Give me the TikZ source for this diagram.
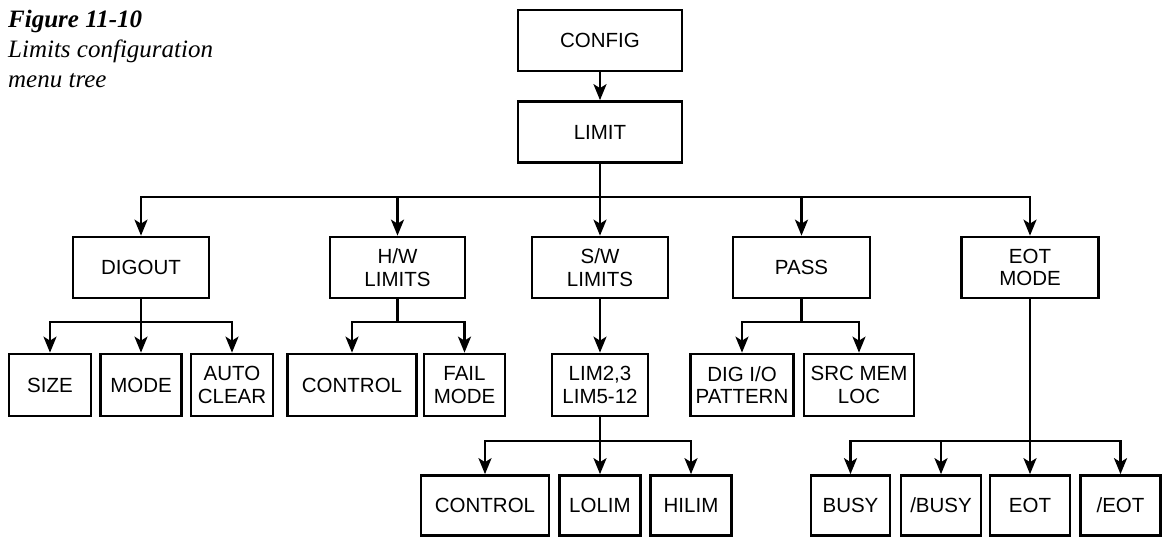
\documentclass[tikz,border=0pt]{standalone}
\usepackage{fontspec}
\setmainfont{Liberation Serif}
\setsansfont{Liberation Sans}
\usetikzlibrary{arrows.meta}
\tikzset{
  menubox/.style={draw, line width=2.7pt, minimum height=61pt, inner sep=0pt, align=center,
    font=\sffamily\fontsize{20.5}{22.5}\selectfont},
  link/.style={line width=2.5pt},
  linkarrow/.style={link, -{Stealth[length=16pt,width=13pt,inset=4pt]}},
  caption/.style={anchor=base west, inner sep=0pt, font=\fontsize{25}{30}\selectfont\itshape}
}
\begin{document}
\begin{tikzpicture}[x=1pt,y=-1pt]
  \useasboundingbox (0,0) rectangle (1162,537);
  \node[caption, font=\fontsize{25}{30}\selectfont\bfseries\itshape] (cap1) at (8,28) {Figure 11-10};
  \node[caption] (cap2) at (8,58) {Limits configuration};
  \node[caption] (cap3) at (8,88) {menu tree};
  \node[menubox, minimum width=164pt] (config) at (600,40.5) {CONFIG};
  \node[menubox, minimum width=164pt] (limit) at (600,132) {LIMIT};
  \foreach \n/\x/\w/\t in {digout/141/136/DIGOUT, hw/397.5/135/{H/W\\LIMITS}, sw/600/136/{S/W\\LIMITS},
      pass/801.5/137/PASS, eotmode/1030/137/{EOT\\MODE}}
    \node[menubox, minimum width=\w pt] (\n) at (\x,267.5) {\t};
  \foreach \n/\x/\w/\t in {size/50/82/SIZE, mode/141/81/MODE, autoclr/232/82/{AUTO\\CLEAR},
      hwctrl/352/129/CONTROL, fail/464.5/81/{FAIL\\MODE}, lim/600/96/{LIM2,3\\LIM5-12},
      dig/742/103/{DIG I/O\\PATTERN}, src/859/110/{SRC MEM\\LOC}}
    \node[menubox, minimum width=\w pt, minimum height=62pt] (\n) at (\x,385) {\t};
  \foreach \n/\x/\w/\t in {swctrl/485/128/CONTROL, lolim/600/81/LOLIM, hilim/691/81/HILIM,
      busy/850.5/79/BUSY, nbusy/941/80/{/BUSY}, eot/1030/80/EOT, neot/1120.5/80/{/EOT}}
    \node[menubox, minimum width=\w pt, minimum height=60pt] (\n) at (\x,505.5) {\t};
  \coordinate (topfork) at (0,197);
  \coordinate (midfork) at (0,322);
  \coordinate (lowfork) at (0,441);
  \draw[linkarrow] (config) -- (limit);
  \foreach \n in {digout,hw,sw,pass,eotmode}
    \draw[linkarrow] (limit) -- (limit |- topfork) -| (\n);
  \foreach \n in {size,mode,autoclr}
    \draw[linkarrow] (digout) -- (digout |- midfork) -| (\n);
  \foreach \n in {hwctrl,fail}
    \draw[linkarrow] (hw) -- (hw |- midfork) -| (\n);
  \draw[linkarrow] (sw) -- (lim);
  \foreach \n in {dig,src}
    \draw[linkarrow] (pass) -- (pass |- midfork) -| (\n);
  \foreach \n in {swctrl,lolim,hilim}
    \draw[linkarrow] (lim) -- (lim |- lowfork) -| (\n);
  \foreach \n in {busy,nbusy,eot,neot}
    \draw[linkarrow] (eotmode) -- (eotmode |- lowfork) -| (\n);
\end{tikzpicture}
\end{document}
